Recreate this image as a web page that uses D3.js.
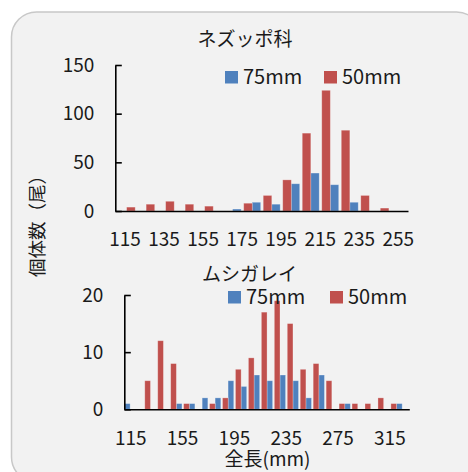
<!DOCTYPE html>
<html>
<head>
<meta charset="utf-8">
<script src="https://cdn.jsdelivr.net/npm/d3@7"></script>
<style>
  body { margin: 0; background: #ffffff; }
  text { font-family: "Noto Sans CJK JP", "Noto Sans", sans-serif; fill: #1a1a1a; }
</style>
</head>
<body>
<script>
var width = 468;
var height = 472;

// ネズッポ科
var topLengths = [115, 125, 135, 145, 155, 165, 175, 185, 195, 205, 215, 225, 235, 245, 255];
var top75 = [0, 0, 0, 0, 0, 0, 2, 9, 7, 28, 39, 27, 9, 0, 0];
var top50 = [4, 7, 10, 7, 5, 0, 8, 16, 32, 80, 124, 83, 16, 3, 0];
var topYTicks = [0, 50, 100, 150];
var topXLabels = [115, 135, 155, 175, 195, 215, 235, 255];

// ムシガレイ
var botLengths = [115, 125, 135, 145, 155, 165, 175, 185, 195, 205, 215,
                  225, 235, 245, 255, 265, 275, 285, 295, 305, 315, 325];
var bot75 = [1, 0, 0, 0, 1, 1, 2, 2, 5, 4, 6, 5, 6, 5, 2, 6, 0, 1, 0, 0, 0, 1];
var bot50 = [0, 5, 12, 8, 1, 0, 1, 2, 7, 9, 17, 19, 15, 7, 8, 5, 1, 1, 1, 2, 1, 0];
var botYTicks = [0, 10, 20];
var botXLabels = [115, 155, 195, 235, 275, 315];

var seriesNames = ['75mm', '50mm'];
var colors = ['#4f81bd', '#c0504d'];

var svg = d3.select('body').append('svg')
  .attr('width', width)
  .attr('height', height);

svg.append('rect')
  .attr('x', 11.5).attr('y', 12)
  .attr('width', 470).attr('height', 470)
  .attr('rx', 25).attr('ry', 25)
  .attr('fill', '#f2f2f2')
  .attr('stroke', '#c8c8c8')
  .attr('stroke-width', 1.5);

var drawPanel = function(spec) {
  var x = d3.scaleBand().domain(spec.lengths).range([spec.left, spec.right]);
  var y = d3.scaleLinear().domain([0, spec.yMax]).range([spec.bottom, spec.top]);
  var g = svg.append('g');
  var w = x.bandwidth();

  var rows = spec.lengths.map(function(len, i) {
    return { len: len, a: spec.s75[i], b: spec.s50[i] };
  });

  // 75mm on the left of each band, 50mm on the right
  [['a', 0.01], ['b', 0.58]].forEach(function(s, k) {
    g.selectAll('.bar' + k)
      .data(rows.filter(function(d) { return d[s[0]] > 0; }))
      .enter().append('rect')
      .attr('class', 'bar' + k)
      .attr('x', function(d) { return x(d.len) + s[1] * w; })
      .attr('y', function(d) { return y(d[s[0]]); })
      .attr('width', 0.44 * w)
      .attr('height', function(d) { return y(0) - y(d[s[0]]); })
      .attr('fill', colors[k])
      .attr('stroke', 'rgba(255,255,255,0.35)')
      .attr('stroke-width', 0.8);
  });

  var yAxis = d3.axisLeft(y)
    .tickValues(spec.yTicks)
    .tickSize(-6.5)
    .tickSizeOuter(0)
    .tickPadding(21)
    .tickFormat(d3.format('d'));
  var yg = g.append('g')
    .attr('transform', 'translate(' + spec.left + ',0)')
    .call(yAxis);
  yg.select('.domain').attr('stroke', '#000').attr('stroke-width', 1.6);
  yg.selectAll('.tick line').attr('stroke', '#000').attr('stroke-width', 1.6);

  var xAxis = d3.axisBottom(x)
    .tickValues(spec.xLabels)
    .tickSize(0)
    .tickPadding(22);
  var xg = g.append('g')
    .attr('transform', 'translate(0,' + spec.bottom + ')')
    .call(xAxis);
  xg.select('.domain').attr('stroke', '#000').attr('stroke-width', 1.6);

  g.selectAll('.tick text')
    .attr('fill', '#1a1a1a')
    .style('font-size', '19px')
    .style('font-family', '"Noto Sans CJK JP", "Noto Sans", sans-serif');

  g.append('text')
    .attr('x', spec.titleX)
    .attr('y', spec.titleY)
    .attr('text-anchor', 'middle')
    .style('font-size', '19px')
    .text(spec.title);

  seriesNames.forEach(function(name, k) {
    var lx = spec.legendX[k];
    g.append('rect')
      .attr('x', lx).attr('y', spec.legendY - 6)
      .attr('width', 13).attr('height', 12.5)
      .attr('fill', colors[k]);
    g.append('text')
      .attr('x', lx + 18)
      .attr('y', spec.legendY)
      .attr('dy', '0.36em')
      .style('font-size', '20px')
      .text(name);
  });
};

drawPanel({
  lengths: topLengths, s75: top75, s50: top50,
  yMax: 150, yTicks: topYTicks, xLabels: topXLabels,
  left: 115.3, right: 408, top: 65, bottom: 211,
  title: 'ネズッポ科', titleX: 245, titleY: 46,
  legendX: [225, 324], legendY: 77
});

drawPanel({
  lengths: botLengths, s75: bot75, s50: bot50,
  yMax: 20, yTicks: botYTicks, xLabels: botXLabels,
  left: 124.3, right: 409.3, top: 295, bottom: 409.3,
  title: 'ムシガレイ', titleX: 249.5, titleY: 281,
  legendX: [228, 330], legendY: 297
});

svg.append('text')
  .attr('x', 267.5)
  .attr('y', 466)
  .attr('text-anchor', 'middle')
  .style('font-size', '19px')
  .text('全長(mm)');

svg.append('text')
  .attr('transform', 'translate(38,221.5) rotate(-90)')
  .attr('text-anchor', 'middle')
  .attr('dy', '0.35em')
  .style('font-size', '18.5px')
  .text('個体数（尾）');
</script>
</body>
</html>
